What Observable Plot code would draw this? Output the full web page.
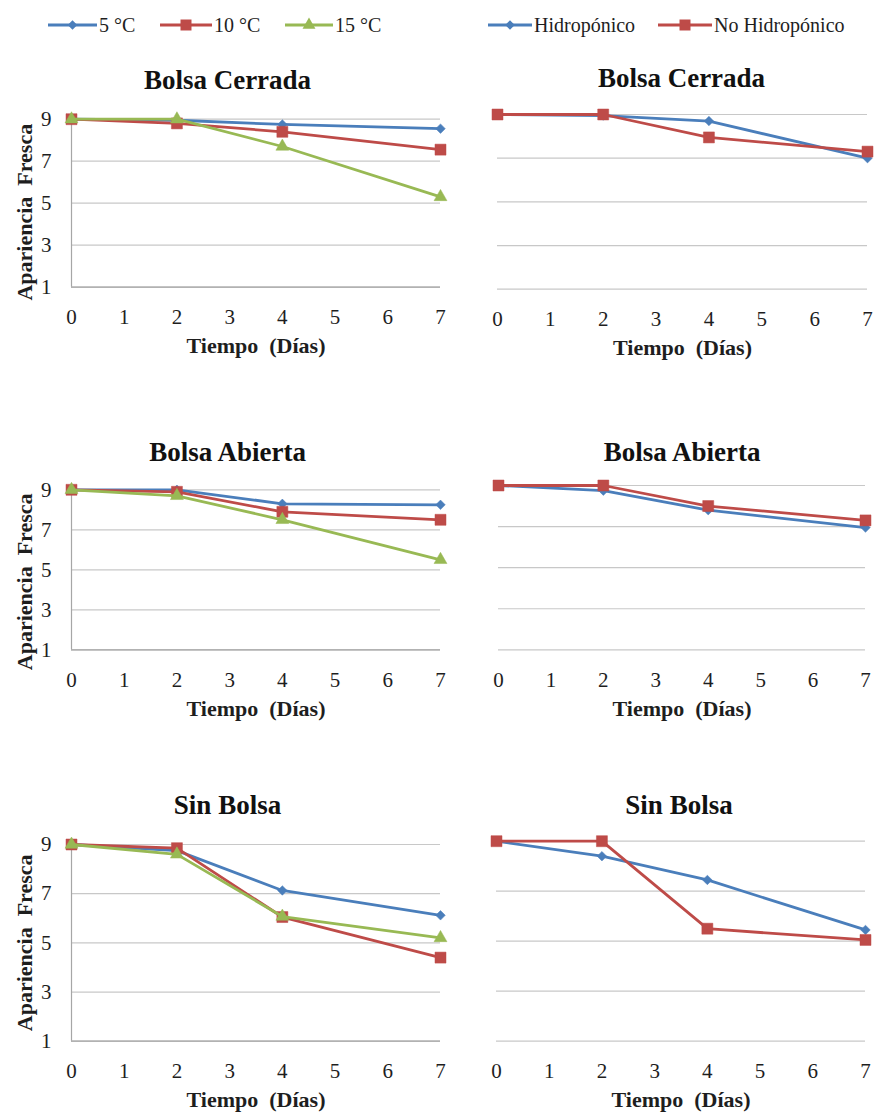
<!DOCTYPE html>
<html>
<head>
<meta charset="utf-8">
<script src="https://cdn.jsdelivr.net/npm/d3@7"></script>
<script src="https://cdn.jsdelivr.net/npm/@observablehq/plot@0.6"></script>
<style>
  body { margin: 0; background: #fff; }
  #chart { position: relative; width: 875px; height: 1114px; overflow: hidden; background: #fff; font-family: "Liberation Serif", "DejaVu Serif", serif; }
  #chart svg { position: absolute; }
  #chart svg text { font-family: "Liberation Serif", "DejaVu Serif", serif !important; }
</style>
</head>
<body>
<div id="chart"></div>
<script>
// ---------------- data ----------------
const days = [0, 2, 4, 7];
const xTicks = [0, 1, 2, 3, 4, 5, 6, 7];
const yTicks = [1, 3, 5, 7, 9];
const tempSeries = ["5 °C", "10 °C", "15 °C"];
const hydroSeries = ["Hidropónico", "No Hidropónico"];
const panelTitles = ["Bolsa Cerrada", "Bolsa Abierta", "Sin Bolsa"];
const xLabel = "Tiempo  (Días)";
const yLabel = "Apariencia  Fresca";

// Left column: temperature
const cerrada5  = [9.0, 8.95, 8.75, 8.55];
const cerrada10 = [9.0, 8.8, 8.4, 7.55];
const cerrada15 = [9.0, 9.0, 7.7, 5.3];
const abierta5  = [9.0, 9.0, 8.3, 8.25];
const abierta10 = [9.0, 8.9, 7.9, 7.5];
const abierta15 = [9.0, 8.7, 7.5, 5.5];
const sin5  = [9.0, 8.75, 7.13, 6.12];
const sin10 = [9.0, 8.85, 6.05, 4.4];
const sin15 = [9.0, 8.6, 6.07, 5.2];

// Right column: hydroponic vs not
const cerradaH  = [9.0, 8.95, 8.7, 7.0];
const cerradaNH = [9.0, 9.0, 7.95, 7.3];
const abiertaH  = [9.0, 8.75, 7.8, 6.95];
const abiertaNH = [9.0, 9.0, 8.0, 7.3];
const sinH  = [9.0, 8.4, 7.45, 5.45];
const sinNH = [9.0, 9.0, 5.5, 5.05];

// ---------------- styles ----------------
const BLUE = "#4a7ebb", RED = "#be4b48", GREEN = "#98b954";
const GRID = "#c8c8c8", AXIS = "#a6a6a6", INK = "#1e1e1e";
const FONT = "'Liberation Serif', 'DejaVu Serif', serif";
const tempStyle = [
  {color: BLUE, symbol: "diamond2", r: 4.3},
  {color: RED, symbol: "square", r: 6.2},
  {color: GREEN, symbol: "triangle", r: 4.8}
];
const hydroStyle = [
  {color: BLUE, symbol: "diamond2", r: 4.3},
  {color: RED, symbol: "square", r: 6.2}
];

// layout: svg box + frame [x0, x1, yTop, yBottom] in page pixels
const panels = [
  {title: panelTitles[0], names: tempSeries, values: [cerrada5, cerrada10, cerrada15], style: tempStyle, left: true,
   box: [0, 40, 452, 330], frame: [71, 440, 118.7, 286.7], titleDx: -28.5, titleDy: -38.7, ylabDy: 9},
  {title: panelTitles[0], names: hydroSeries, values: [cerradaH, cerradaNH], style: hydroStyle, left: false,
   box: [440, 40, 435, 330], frame: [497, 867, 114, 288.7], titleDx: -1, titleDy: -36, ylabDy: 0},
  {title: panelTitles[1], names: tempSeries, values: [abierta5, abierta10, abierta15], style: tempStyle, left: true,
   box: [0, 410, 452, 330], frame: [71, 440, 489.3, 649.3], titleDx: -28.5, titleDy: -37.6, ylabDy: 12},
  {title: panelTitles[1], names: hydroSeries, values: [abiertaH, abiertaNH], style: hydroStyle, left: false,
   box: [440, 410, 435, 330], frame: [498, 865, 485, 649.3], titleDx: 0, titleDy: -33.5, ylabDy: 0},
  {title: panelTitles[2], names: tempSeries, values: [sin5, sin10, sin15], style: tempStyle, left: true,
   box: [0, 765, 452, 349], frame: [71, 440, 844, 1040.7], titleDx: -28.5, titleDy: -39, ylabDy: 0},
  {title: panelTitles[2], names: hydroSeries, values: [sinH, sinNH], style: hydroStyle, left: false,
   box: [440, 765, 435, 349], frame: [496, 865, 840.7, 1040.7], titleDx: -2, titleDy: -35.7, ylabDy: 0}
];

const chart = document.getElementById("chart");

function makePanel(p) {
  const [bx, by, bw, bh] = p.box;
  const [fx0, fx1, fy0, fy1] = p.frame;
  const marks = [];
  marks.push(Plot.gridY(yTicks, {stroke: GRID, strokeOpacity: 1, strokeWidth: 1.2}));
  if (p.left) {
    marks.push(Plot.ruleY([1], {stroke: AXIS, strokeWidth: 1.2}));
    marks.push(Plot.ruleX([0], {stroke: AXIS, strokeWidth: 1.2}));
    marks.push(Plot.axisY(yTicks, {tickSize: 0, tickPadding: 20, fontSize: 21, label: null, fill: INK}));
    marks.push(Plot.text([yLabel], {text: d => d, frameAnchor: "left", dx: -47, dy: p.ylabDy, rotate: -90,
      fontSize: 22, fontWeight: "bold", fill: INK, textAnchor: "middle", lineAnchor: "middle"}));
  }
  marks.push(Plot.axisX(xTicks, {tickSize: 0, tickPadding: 22, fontSize: 21, label: null, fill: INK}));
  marks.push(Plot.text([p.title], {text: d => d, frameAnchor: "top", dx: p.titleDx, dy: p.titleDy,
    fontSize: 27, fontWeight: "bold", fill: "#111", lineAnchor: "middle"}));
  marks.push(Plot.text([xLabel], {text: d => d, frameAnchor: "bottom", dy: 59,
    fontSize: 22, fontWeight: "bold", fill: INK, lineAnchor: "middle"}));
  p.values.forEach((vals, i) => {
    const st = p.style[i];
    const data = days.map((d, j) => ({day: d, value: vals[j], series: p.names[i]}));
    marks.push(Plot.line(data, {x: "day", y: "value", stroke: st.color, strokeWidth: 2.8}));
    marks.push(Plot.dot(data, {x: "day", y: "value", symbol: st.symbol, fill: st.color, stroke: st.color, strokeWidth: 0.5, r: st.r}));
  });
  const svg = Plot.plot({
    width: bw, height: bh,
    marginLeft: fx0 - bx, marginRight: bx + bw - fx1,
    marginTop: fy0 - by, marginBottom: by + bh - fy1,
    x: {domain: [0, 7]},
    y: {domain: [1, 9], ...(p.left ? {} : {axis: null})},
    style: {background: "transparent", overflow: "visible", fontFamily: FONT, color: INK},
    marks
  });
  svg.style.position = "absolute";
  svg.style.left = bx + "px";
  svg.style.top = by + "px";
  chart.appendChild(svg);
}
panels.forEach(makePanel);

// ---------------- legends ----------------
function legend(items, styles, positions, left, width) {
  const svg = d3.create("svg").attr("width", width).attr("height", 50)
    .style("position", "absolute").style("left", left + "px").style("top", "0px").style("overflow", "visible");
  const y = 25;
  items.forEach((name, i) => {
    const [x0, x1] = positions[i];
    const st = styles[i];
    svg.append("line").attr("x1", x0 - left).attr("x2", x1 - left).attr("y1", y).attr("y2", y)
      .attr("stroke", st.color).attr("stroke-width", 2.8);
    const symMap = {diamond2: d3.symbolDiamond2, square: d3.symbolSquare, triangle: d3.symbolTriangle};
    svg.append("path").attr("d", d3.symbol(symMap[st.symbol], Math.PI * st.r * st.r)())
      .attr("transform", `translate(${(x0 + x1) / 2 - left},${y})`).attr("fill", st.color);
    svg.append("text").attr("x", x1 + 2 - left).attr("y", y).attr("dy", "0.35em")
      .style("font-family", FONT).attr("font-size", 20).attr("fill", INK).style("white-space", "pre").text(name);
  });
  chart.appendChild(svg.node());
}
legend(tempSeries, tempStyle, [[48, 97], [160, 212], [285, 333]], 0, 440);
legend(hydroSeries, hydroStyle, [[488, 532], [658, 712]], 440, 435);
</script>
</body>
</html>
